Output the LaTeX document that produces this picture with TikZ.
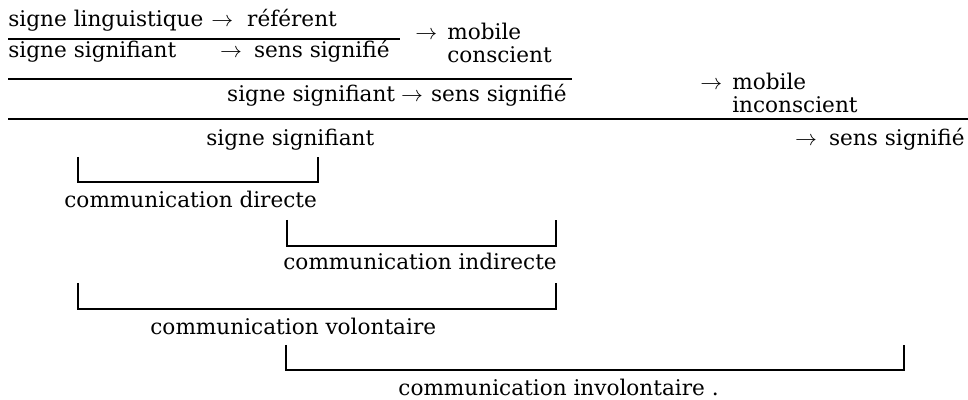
\documentclass[tikz,border=0pt]{standalone}
\usepackage{fontspec}
\setmainfont{DejaVu Serif}
\newcommand{\arr}{$\rightarrow$}
\begin{document}
\begin{tikzpicture}[x=0.5pt,y=-0.5pt,
  lbl/.style={inner sep=0pt, font=\fontsize{10.8}{9.2}\selectfont, align=left},
  rulel/.style={line width=0.75pt},
  brk/.style={line width=0.7pt}]
\useasboundingbox (0,0) rectangle (968,400);
% row 1
\node[lbl,anchor=base west] (t1) at (8,27) {signe linguistique\hspace{4pt}\arr\hspace{7pt}référent};
\coordinate (l1a) at (8,39); \coordinate (l1b) at (400,39);
\draw[rulel] (l1a) -- (l1b);
% row 2
\node[lbl,anchor=base west] (t2a) at (8,58) {signe signifiant};
\node[lbl,anchor=base east] (t2b) at (390,58) {\arr\hspace{6pt}sens signifié};
\node[lbl,anchor=base west] (m1) at (415,63) {\arr\hspace{5pt}mobile\\[2.5pt]\phantom{\arr\hspace{5pt}}conscient};
\coordinate (l2a) at (8,79); \coordinate (l2b) at (572,79);
\draw[rulel] (l2a) -- (l2b);
% row 3
\node[lbl,anchor=base east] (t3) at (567,102) {signe signifiant\hspace{3pt}\arr\hspace{4pt}sens signifié};
\node[lbl,anchor=base west] (m2) at (700,113) {\arr\hspace{5pt}mobile\\[2.5pt]\phantom{\arr\hspace{5pt}}inconscient};
\coordinate (l3a) at (8,119); \coordinate (l3b) at (968,119);
\draw[rulel] (l3a) -- (l3b);
% row 4
\node[lbl,anchor=base west] (t4a) at (206,146) {signe signifiant};
\node[lbl,anchor=base east] (t4b) at (965,146) {\arr\hspace{6pt}sens signifié};
% bracket 1
\coordinate (b1a) at (78,157); \coordinate (b1b) at (78,182);
\coordinate (b1c) at (318,182); \coordinate (b1d) at (318,157);
\draw[brk] (b1a) -- (b1b) -- (b1c) -- (b1d);
\node[lbl,anchor=base west] (d1) at (64,208) {communication directe};
% bracket 2
\coordinate (b2a) at (287,220); \coordinate (b2b) at (287,246);
\coordinate (b2c) at (556,246); \coordinate (b2d) at (556,220);
\draw[brk] (b2a) -- (b2b) -- (b2c) -- (b2d);
\node[lbl,anchor=base west] (d2) at (283,270) {communication indirecte};
% bracket 3
\coordinate (b3a) at (78,283); \coordinate (b3b) at (78,309);
\coordinate (b3c) at (556,309); \coordinate (b3d) at (556,283);
\draw[brk] (b3a) -- (b3b) -- (b3c) -- (b3d);
\node[lbl,anchor=base west] (d3) at (150,335) {communication volontaire};
% bracket 4
\coordinate (b4a) at (286,345); \coordinate (b4b) at (286,370);
\coordinate (b4c) at (904,370); \coordinate (b4d) at (904,345);
\draw[brk] (b4a) -- (b4b) -- (b4c) -- (b4d);
\node[lbl,anchor=base west] (d4) at (398,395) {communication involontaire .};
\end{tikzpicture}
\end{document}
